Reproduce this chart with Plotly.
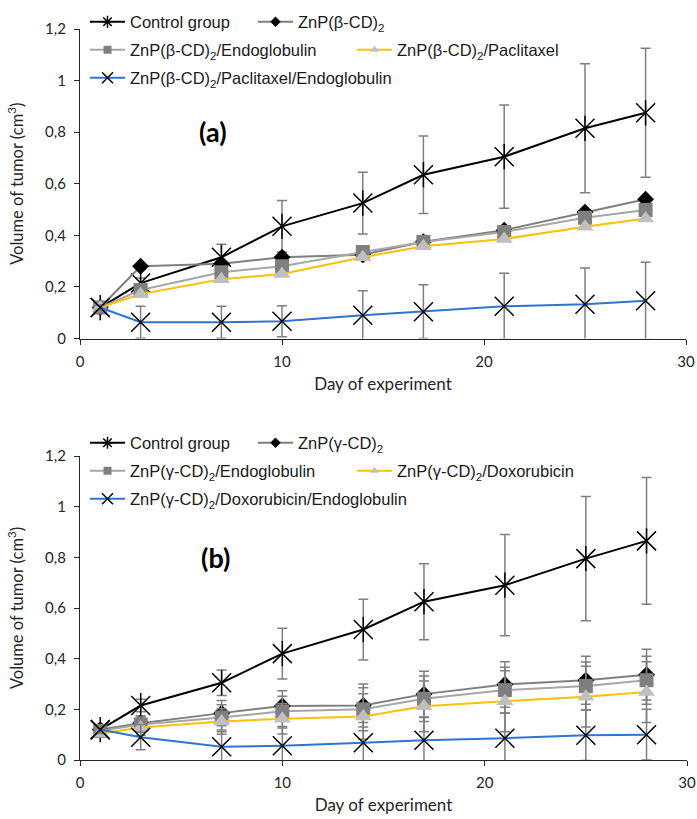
import plotly.graph_objects as go

# ---------------- data ----------------
days = [1, 3, 7, 10, 14, 17, 21, 25, 28]

# panel (a)
a_control = [0.12, 0.215, 0.315, 0.435, 0.525, 0.635, 0.705, 0.815, 0.875]
a_control_err = [0.01, 0.02, 0.05, 0.10, 0.12, 0.15, 0.20, 0.25, 0.25]
a_znp = [0.12, 0.28, 0.29, 0.315, 0.325, 0.375, 0.42, 0.49, 0.54]
a_endo = [0.12, 0.188, 0.257, 0.28, 0.335, 0.374, 0.413, 0.468, 0.498]
a_pacl = [0.12, 0.172, 0.23, 0.25, 0.315, 0.358, 0.386, 0.433, 0.465]
a_pacl_endo = [0.12, 0.063, 0.063, 0.067, 0.09, 0.104, 0.125, 0.133, 0.146]
a_pacl_endo_err = [0.01, 0.062, 0.062, 0.06, 0.095, 0.104, 0.128, 0.14, 0.15]

# panel (b)
b_control = [0.12, 0.215, 0.305, 0.42, 0.515, 0.625, 0.69, 0.795, 0.865]
b_control_err = [0.01, 0.025, 0.05, 0.10, 0.12, 0.15, 0.20, 0.245, 0.25]
b_znp = [0.12, 0.145, 0.185, 0.213, 0.215, 0.26, 0.298, 0.315, 0.337]
b_znp_err = [0.015, 0.03, 0.05, 0.06, 0.085, 0.09, 0.09, 0.095, 0.10]
b_endo = [0.115, 0.14, 0.168, 0.192, 0.20, 0.242, 0.276, 0.292, 0.315]
b_endo_err = [0.015, 0.03, 0.05, 0.06, 0.085, 0.09, 0.09, 0.095, 0.095]
b_doxo = [0.105, 0.128, 0.152, 0.163, 0.172, 0.212, 0.232, 0.25, 0.268]
b_doxo_err = [0.015, 0.03, 0.05, 0.06, 0.09, 0.10, 0.12, 0.12, 0.12]
b_doxo_endo = [0.12, 0.09, 0.052, 0.056, 0.068, 0.078, 0.086, 0.098, 0.10]
b_doxo_endo_err = [0.015, 0.05, 0.06, 0.07, 0.08, 0.09, 0.10, 0.10, 0.10]

names_a = ["Control group", "ZnP(β-CD)<sub>2</sub>", "ZnP(β-CD)<sub>2</sub>/Endoglobulin",
           "ZnP(β-CD)<sub>2</sub>/Paclitaxel", "ZnP(β-CD)<sub>2</sub>/Paclitaxel/Endoglobulin"]
names_b = ["Control group", "ZnP(γ-CD)<sub>2</sub>", "ZnP(γ-CD)<sub>2</sub>/Endoglobulin",
           "ZnP(γ-CD)<sub>2</sub>/Doxorubicin", "ZnP(γ-CD)<sub>2</sub>/Doxorubicin/Endoglobulin"]
panel_labels = ["(a)", "(b)"]

y_ticks = [0, 0.2, 0.4, 0.6, 0.8, 1.0, 1.2]
y_ticktext = ["0", "0,2", "0,4", "0,6", "0,8", "1", "1,2"]
x_ticks = [0, 10, 20, 30]
x_title = "Day of experiment"
y_title = "Volume of tumor (cm<sup>3</sup>)"

# ---------------- styles ----------------
W, H = 697, 819
ERR_COL = "#7f7f7f"
styles = [
    dict(line=dict(color="black", width=2),
         marker=dict(symbol="x-thin-open", size=19, color="black", line=dict(color="black", width=1.5)),
         leg_marker=dict(symbol="asterisk-open", size=10, color="black", line=dict(color="black", width=1.5))),
    dict(line=dict(color="#7f7f7f", width=2),
         marker=dict(symbol="diamond", size=13, color="black"),
         leg_marker=dict(symbol="diamond", size=8, color="black")),
    dict(line=dict(color="#a6a6a6", width=2),
         marker=dict(symbol="square", size=14, color="#7f7f7f"),
         leg_marker=dict(symbol="square", size=8, color="#7f7f7f")),
    dict(line=dict(color="#ffc000", width=2),
         marker=dict(symbol="triangle-up", size=15, color="#bfbfbf"),
         leg_marker=dict(symbol="triangle-up", size=8, color="#bfbfbf")),
    dict(line=dict(color="#2e75d1", width=2),
         marker=dict(symbol="x-thin-open", size=19, color="black", line=dict(color="black", width=1.5)),
         leg_marker=dict(symbol="x-thin-open", size=11, color="black", line=dict(color="black", width=1.5))),
]


def px2x(px):
    return px / W


def py2y(py):
    return 1 - py / H


fig = go.Figure()

panels = [
    dict(series=[a_control, a_znp, a_endo, a_pacl, a_pacl_endo],
         errs=[a_control_err, None, None, None, a_pacl_endo_err],
         names=names_a, xa="x", ya="y", ytop=29, ybot=338.5, xl=80, xr=686,
         leg_rows=[22, 50, 78], leg_x=[[88, 256], [88, 355], [88]]),
    dict(series=[b_control, b_znp, b_endo, b_doxo, b_doxo_endo],
         errs=[b_control_err, b_znp_err, b_endo_err, b_doxo_err, b_doxo_endo_err],
         names=names_b, xa="x2", ya="y2", ytop=456, ybot=760, xl=80, xr=687,
         leg_rows=[443, 471, 499], leg_x=[[88, 256], [88, 355], [88]]),
]

leg_layouts = {}
leg_idx = 0
for p in panels:
    # data traces
    for i, (vals, err) in enumerate(zip(p["series"], p["errs"])):
        st = styles[i]
        tr = dict(x=days, y=vals, mode="lines+markers", line=st["line"], marker=st["marker"],
                  xaxis=p["xa"], yaxis=p["ya"], showlegend=False, name=p["names"][i])
        if err is not None:
            tr["error_y"] = dict(type="data", array=err, visible=True, color=ERR_COL,
                                 thickness=1.5, width=5)
        fig.add_trace(go.Scatter(**tr))
        if i == 0:
            # vertical stroke of the six-armed star marker of the control group
            fig.add_trace(go.Scatter(x=days, y=vals, mode="markers", xaxis=p["xa"], yaxis=p["ya"],
                                     showlegend=False, hoverinfo="skip",
                                     marker=dict(symbol="line-ns-open", size=18, color="black",
                                                 line=dict(color="black", width=1.5))))
    # legend proxy traces, each in its own legend for exact placement
    k = 0
    for r, row_y in enumerate(p["leg_rows"]):
        for lx in p["leg_x"][r]:
            leg_idx += 1
            lname = "legend" if leg_idx == 1 else f"legend{leg_idx}"
            st = styles[k]
            fig.add_trace(go.Scatter(x=[None], y=[None], mode="lines+markers", name=p["names"][k],
                                     line=st["line"], marker=st["leg_marker"], legend=lname,
                                     xaxis=p["xa"], yaxis=p["ya"], showlegend=True))
            leg_layouts[lname] = dict(x=px2x(lx - 3), y=py2y(row_y), xanchor="left", yanchor="middle",
                                      bgcolor="rgba(0,0,0,0)", borderwidth=0, itemwidth=35,
                                      font=dict(family="Liberation Sans, Arial", size=16.5, color="#1a1a1a"),
                                      tracegroupgap=0)
            k += 1

axis_common = dict(showline=True, linecolor="#262626", linewidth=1.2, ticks="outside", ticklen=5,
                   tickcolor="#262626", showgrid=False, zeroline=False, automargin=False,
                   tickfont=dict(family="Lato", size=15, color="#262626"))

layout = dict(
    width=W, height=H, margin=dict(l=0, r=0, t=0, b=0, autoexpand=False),
    paper_bgcolor="white", plot_bgcolor="white", showlegend=True,
    font=dict(family="Lato", color="#262626"),
)
for p, n in zip(panels, ["", "2"]):
    layout["xaxis" + n] = dict(axis_common, domain=[px2x(p["xl"]), px2x(p["xr"])], range=[0, 30],
                               tickvals=x_ticks, anchor="y" + n, ticklabelstandoff=4,
                               title=dict(text=x_title, font=dict(family="Lato", size=17, color="#262626"),
                                          standoff=9))
    layout["yaxis" + n] = dict(axis_common, domain=[py2y(p["ybot"]), py2y(p["ytop"])], range=[0, 1.2],
                               tickvals=y_ticks, ticktext=y_ticktext, anchor="x" + n, ticklabelstandoff=5,
                               title=dict(text=y_title, font=dict(family="Lato", size=16.5, color="#262626"),
                                          standoff=17))
layout.update(leg_layouts)
layout["annotations"] = [
    dict(text=panel_labels[0], x=px2x(213), y=py2y(131), xref="paper", yref="paper", showarrow=False,
         xanchor="center", yanchor="middle",
         font=dict(family="Lato", size=27, color="black", weight="bold")),
    dict(text=panel_labels[1], x=px2x(215), y=py2y(557), xref="paper", yref="paper", showarrow=False,
         xanchor="center", yanchor="middle",
         font=dict(family="Lato", size=27, color="black", weight="bold")),
]
fig.update_layout(**layout)
fig.write_html("out.html", config={"displayModeBar": False},
               post_script="document.body.style.margin = '0';")
